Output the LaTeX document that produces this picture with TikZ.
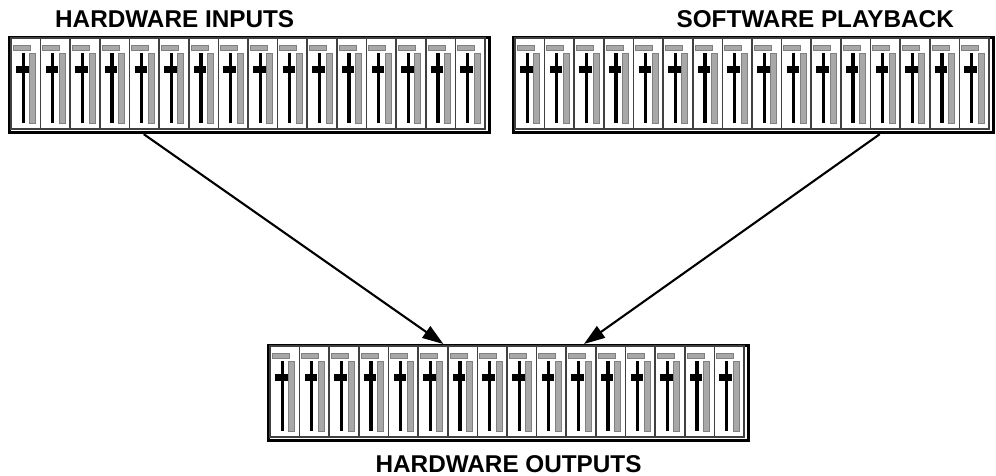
\documentclass[tikz,border=0pt]{standalone}
\usepackage{fontspec}
\setmainfont{Liberation Sans}
\usetikzlibrary{positioning,calc,arrows.meta}
\definecolor{Piste}{HTML}{A8A8A8}
\definecolor{Bord}{HTML}{404040}

\tikzset{
  console/.style={draw, line width=3.2pt, minimum width=480pt, minimum height=95pt, inner sep=0pt, anchor=north west},
  titre/.style={font=\fontsize{24.3}{27}\selectfont\bfseries, inner sep=0pt},
  fleche/.style={line width=2.1pt, -{Triangle[length=21pt,width=14pt]}}
}

% 16 tranches dans une console
\newcommand{\tranches}[1]{%
  \foreach \k in {0,...,15}{
    \begin{scope}[shift={($(#1.north west)+(3+\k*29.625,2)$)}]
      \draw[Bord, line width=1.5pt] (0,0) rectangle (29.6,91);
      \draw[fill=Piste, draw=gray] (2,7) rectangle (19,12);
      \fill[black] (10.6,15) rectangle (13.8,85);
      \fill[black] (5,28) rectangle (17.5,35);
      \draw[fill=Piste, draw=gray] (18.5,15) rectangle (24.5,85);
    \end{scope}
  }}

\begin{document}
\begin{tikzpicture}[x=1pt,y=-1pt]
  \useasboundingbox (0,0) rectangle (996,476);

  \node[console] (entrees) at (8,36) {};
  \node[console] (lecture) at (512,36) {};
  \node[console] (sorties) at (267,344) {};
  \tranches{entrees}
  \tranches{lecture}
  \tranches{sorties}

  \node[titre, anchor=base west] (t1) at (55,28) {HARDWARE INPUTS};
  \node[titre, anchor=base east] (t2) at (954,28) {SOFTWARE PLAYBACK};
  \node[titre, below=13pt of sorties] (t3) {HARDWARE OUTPUTS};

  \draw[fleche] ($(entrees.south west)!0.281!(entrees.south east)$) -- ($(sorties.north west)!0.365!(sorties.north east)$);
  \draw[fleche] ($(lecture.south west)!0.761!(lecture.south east)$) -- ($(sorties.north west)!0.656!(sorties.north east)$);
\end{tikzpicture}
\end{document}
